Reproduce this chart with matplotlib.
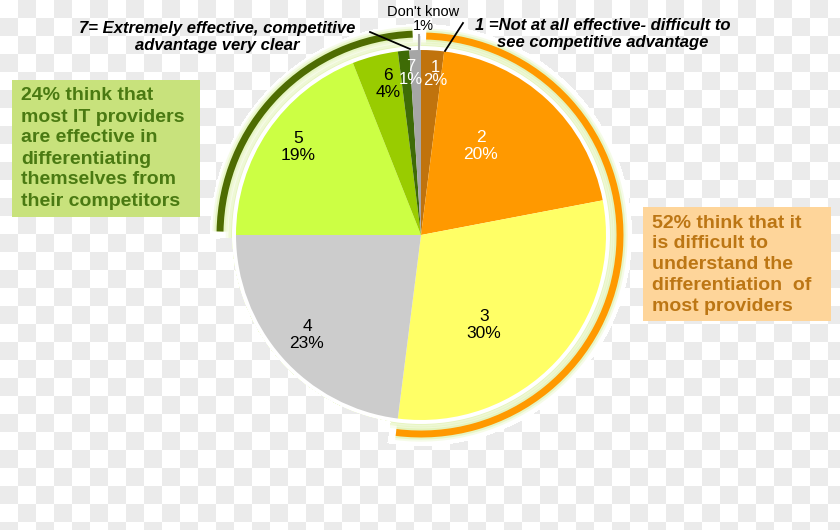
import numpy as np
import matplotlib.pyplot as plt
from matplotlib.lines import Line2D
from matplotlib.patches import Arc, Circle, Rectangle

W, H = 840, 530

# survey answers, clockwise from 12 o'clock
labels = ['1', '2', '3', '4', '5', '6', '7', "Don't know"]
shares = [2, 20, 30, 23, 19, 4, 1, 1]
colors = ['#C0730D', '#FF9900', '#FFFF66', '#CCCCCC', '#CCFF44', '#99CC00', '#3E6B06', '#A6A6A6']
label_colors = ['white', 'white', 'black', 'black', 'black', 'black', 'white', 'black']

difficult_group = ['1', '2', '3']
effective_group = ['5', '6', '7']

top_left_note = '7= Extremely effective, competitive\nadvantage very clear'
top_right_note = '1 =Not at all effective- difficult to\nsee competitive advantage'

green_box_lines = ['24% think that', 'most IT providers', 'are effective in',
                   'differentiating', 'themselves from', 'their competitors']
orange_box_lines = ['52% think that it', 'is difficult to', 'understand the',
                    'differentiation  of', 'most providers']

plt.rcParams['font.family'] = ['Liberation Sans', 'DejaVu Sans']


def py(y):
    # pixel row (from top) -> data y
    return H - y


def fx(x):
    return x / W


def fy(y):
    return 1 - y / H


fig = plt.figure(figsize=(8.4, 5.3), dpi=100)
fig.patch.set_facecolor('white')
ax = fig.add_axes([0, 0, 1, 1])
ax.patch.set_visible(False)

cx_px, cy_px, r = 421, 235, 185
cx, cy = cx_px, py(cy_px)

# soft glow round the pie
for lw, a in [(12, 0.25), (8, 0.45), (4, 0.9)]:
    ax.add_patch(Circle((cx, cy), r + 2, facecolor='none', edgecolor='#E4F4B8',
                        lw=lw, alpha=a, zorder=1))
ax.add_patch(Circle((cx, cy), r + 4, facecolor='white', edgecolor='none', zorder=1.5))

ax.pie(shares, colors=colors, startangle=90, counterclock=False,
       center=(cx, cy), radius=r, wedgeprops=dict(linewidth=0, zorder=2))

# group arcs
cum = np.concatenate([[0], np.cumsum(shares)]) * 3.6
arc_spans = []


def group_arc(group, color, pad0, pad1, rad=199):
    i0 = labels.index(group[0])
    i1 = labels.index(group[-1]) + 1
    a0, a1 = cum[i0] + pad0, cum[i1] + pad1
    arc_spans.append((a0, a1))
    for lw, a in [(11, 0.25), (8, 0.5)]:
        ax.add_patch(Arc((cx, cy), 2 * rad, 2 * rad, theta1=90 - a1, theta2=90 - a0,
                         color='#D9F0A0', lw=lw, alpha=a, zorder=3))
    ax.add_patch(Arc((cx, cy), 2 * rad, 2 * rad, theta1=90 - a1, theta2=90 - a0,
                     color=color, lw=5, zorder=4))


group_arc(difficult_group, '#FF9900', 1.5, 0)
group_arc(effective_group, '#4E6C02', 1.0, 1.2, rad=201)

# slice labels
label_pos = [(435, 74), (481, 146), (484, 325), (307, 335), (298, 147), (388, 84), (411, 73), (423, 19)]
for lab, s, (x, y), c in zip(labels, shares, label_pos, label_colors):
    if lab == "Don't know":
        fig.text(fx(x), fy(y), f'{lab}\n{s}%', ha='center', va='center', color=c,
                 fontsize=10.5, linespacing=0.95)
        continue
    fs, ls = (12, 0.9) if lab in ('1', '7') else (12.5, 1.1)
    ax.text(x, py(y), f'{lab}\n{s}%', ha='center', va='center', color=c,
            fontsize=fs, linespacing=ls, zorder=6)

# call-out boxes (left, top, width, height in pixels)
green_box = (12, 80, 188, 137)
orange_box = (643, 207, 188, 114)

bx, by, bw, bh = green_box
ax.add_patch(Rectangle((bx, py(by + bh)), bw, bh, facecolor='#C8E27C', edgecolor='none', zorder=5))
for k, line in enumerate(green_box_lines):
    ax.text(21, py(96 + 21 * k), line, ha='left', va='center', color='#4A7A12',
            fontsize=14, fontweight='bold', zorder=6)

bx, by, bw, bh = orange_box
ax.add_patch(Rectangle((bx, py(by + bh)), bw, bh, facecolor='#FED59A', edgecolor='none', zorder=5))
for k, line in enumerate(orange_box_lines):
    ax.text(652, py(223 + 20.8 * k), line, ha='left', va='center', color='#BC7614',
            fontsize=14, fontweight='bold', zorder=6)

ax.set_xlim(0, W)
ax.set_ylim(0, H)
ax.set_aspect('auto')
ax.axis('off')

# transparent-looking checkerboard, laid over the figure with holes
# where the pie, the arcs and the boxes are
cell = 18
yy, xx = np.mgrid[0:H, 0:W]
board = np.ones((H, W, 4))
odd = ((xx // cell + yy // cell) % 2) == 1
board[odd, :3] = 235 / 255
dx = xx + 0.5 - cx_px
dy = yy + 0.5 - cy_px
dist = np.hypot(dx, dy)
ang = np.degrees(np.arctan2(dx, -dy)) % 360
hole = dist < r + 4
for a0, a1 in arc_spans:
    hole |= (dist < 211) & (ang >= a0 - 2) & (ang <= a1 + 2)
for bx, by, bw, bh in [green_box, orange_box]:
    hole |= (xx >= bx) & (xx < bx + bw) & (yy >= by) & (yy < by + bh)
board[hole, 3] = 0
fig.figimage(board, xo=0, yo=0, origin='upper', zorder=0)

# notes and leader lines on top of the checkerboard
fig.text(fx(217), fy(37), top_left_note, ha='center', va='center', fontsize=12,
         fontweight='bold', fontstyle='italic', linespacing=1.1)
fig.text(fx(603), fy(34), top_right_note, ha='center', va='center', fontsize=12,
         fontweight='bold', fontstyle='italic', linespacing=1.1)
fig.add_artist(Line2D([fx(370), fx(410)], [fy(32), fy(49)], color='black', lw=1.3))
fig.add_artist(Line2D([fx(463), fx(445)], [fy(23), fy(51)], color='black', lw=1.3))
fig.add_artist(Line2D([fx(419), fx(419)], [fy(35), fy(50)], color='#A6A6A6', lw=1.5))

fig.savefig('out.png', dpi=100)
